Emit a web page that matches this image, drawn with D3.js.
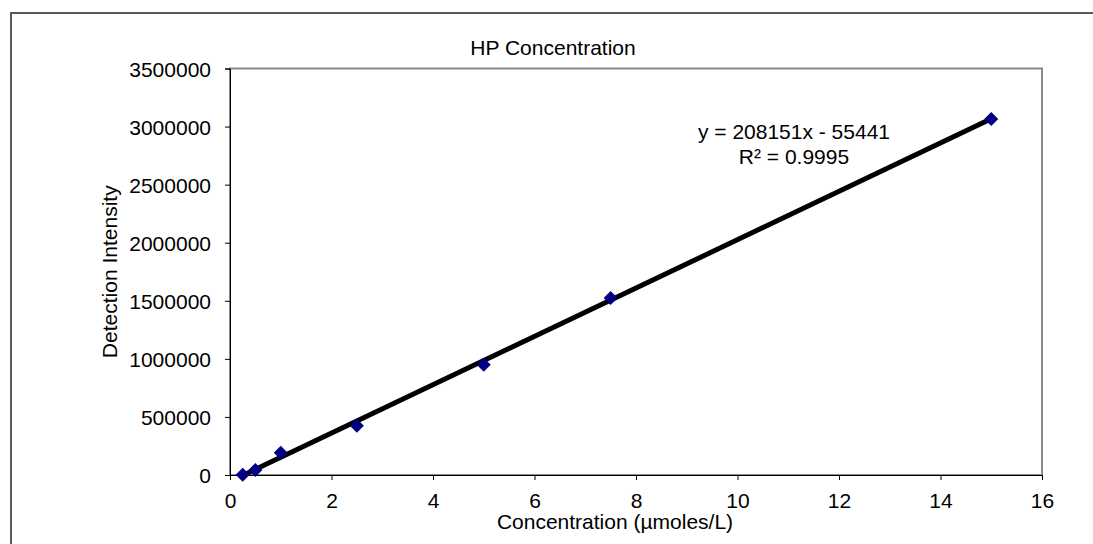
<!DOCTYPE html>
<html>
<head>
<meta charset="utf-8">
<script src="https://cdn.jsdelivr.net/npm/d3@7"></script>
<style>
  body { margin: 0; background: #fff; }
  svg { display: block; font-family: "Liberation Sans", Arial, sans-serif; }
</style>
</head>
<body>
<svg id="chart" width="1093" height="544"></svg>
<script>
// data
const concentration = [0.25, 0.5, 1, 2.5, 5, 7.5, 15];
const intensity = [2000, 43000, 192000, 425000, 950000, 1525000, 3065000];
const xTicks = [0, 2, 4, 6, 8, 10, 12, 14, 16];
const yTicks = [0, 500000, 1000000, 1500000, 2000000, 2500000, 3000000, 3500000];
const slope = 208151;
const intercept = -55441;
const equationLines = ["y = 208151x - 55441", "R\u00b2 = 0.9995"];

const svg = d3.select("#chart");

// outer chart frame
svg.append("rect")
  .attr("x", 11).attr("y", 13)
  .attr("width", 1100).attr("height", 560)
  .attr("fill", "#fff")
  .attr("stroke", "#5a5a5a")
  .attr("stroke-width", 2);

const plot = { left: 230, top: 68.5, right: 1042, bottom: 475 };

const x = d3.scaleLinear().domain([0, 16]).range([plot.left, plot.right]);
const y = d3.scaleLinear().domain([0, 3500000]).range([plot.bottom, plot.top]);

// plot area border
svg.append("rect")
  .attr("x", plot.left).attr("y", plot.top)
  .attr("width", plot.right - plot.left)
  .attr("height", plot.bottom - plot.top)
  .attr("fill", "none")
  .attr("stroke", "#8a8a8a")
  .attr("stroke-width", 2);

// axes
const xAxis = d3.axisBottom(x).tickValues(xTicks).tickSize(5).tickPadding(13);
const yAxis = d3.axisLeft(y).tickValues(yTicks).tickSize(5).tickPadding(14).tickFormat(d3.format("d"));

const gx = svg.append("g")
  .attr("transform", `translate(0, ${ plot.bottom })`)
  .call(xAxis);
const gy = svg.append("g")
  .attr("transform", `translate(${ plot.left }, 0)`)
  .call(yAxis);

[gx, gy].forEach(g => {
  g.select(".domain").attr("stroke", "#000").attr("stroke-width", 1);
  g.selectAll(".tick line").attr("stroke", "#000");
  g.selectAll(".tick text")
    .attr("fill", "#000")
    .style("font-size", "21px")
    .style("font-family", "Liberation Sans, Arial, sans-serif");
});
gy.selectAll(".tick text").attr("dy", "0.36em");

// clip for trend line
svg.append("clipPath").attr("id", "plotClip")
  .append("rect")
  .attr("x", plot.left).attr("y", plot.top)
  .attr("width", plot.right - plot.left)
  .attr("height", plot.bottom - plot.top);

// linear trend line over the data range
const xMin = d3.min(concentration), xMax = d3.max(concentration);
const trend = [xMin, xMax].map(c => ({ c, v: slope * c + intercept }));

svg.append("path")
  .datum(trend)
  .attr("clip-path", "url(#plotClip)")
  .attr("fill", "none")
  .attr("stroke", "#000")
  .attr("stroke-width", 5)
  .attr("d", d3.line().x(d => x(d.c)).y(d => y(d.v)));

// diamond markers
const pts = concentration.map((c, i) => ({ c, v: intensity[i] }));
const r = 7;
svg.selectAll(".pt")
  .data(pts)
  .enter()
  .append("path")
  .attr("class", "pt")
  .attr("d", `M0,${ -r }L${ r },0L0,${ r }L${ -r },0Z`)
  .attr("transform", d => `translate(${ x(d.c) }, ${ y(d.v) })`)
  .attr("fill", "#000080");

// title
svg.append("text")
  .attr("x", 553).attr("y", 55)
  .attr("text-anchor", "middle")
  .style("font-size", "21px")
  .text("HP Concentration");

// axis labels
svg.append("text")
  .attr("x", 615).attr("y", 529)
  .attr("text-anchor", "middle")
  .style("font-size", "21px")
  .text("Concentration (\u00b5moles/L)");

svg.append("text")
  .attr("transform", `translate(117, ${ (plot.top + plot.bottom) / 2 }) rotate(-90)`)
  .attr("text-anchor", "middle")
  .style("font-size", "21px")
  .text("Detection Intensity");

// trend equation
svg.append("g").selectAll("text")
  .data(equationLines)
  .enter()
  .append("text")
  .attr("x", 794)
  .attr("y", (d, i) => 139 + i * 25)
  .attr("text-anchor", "middle")
  .style("font-size", "21px")
  .text(d => d);
</script>
</body>
</html>
